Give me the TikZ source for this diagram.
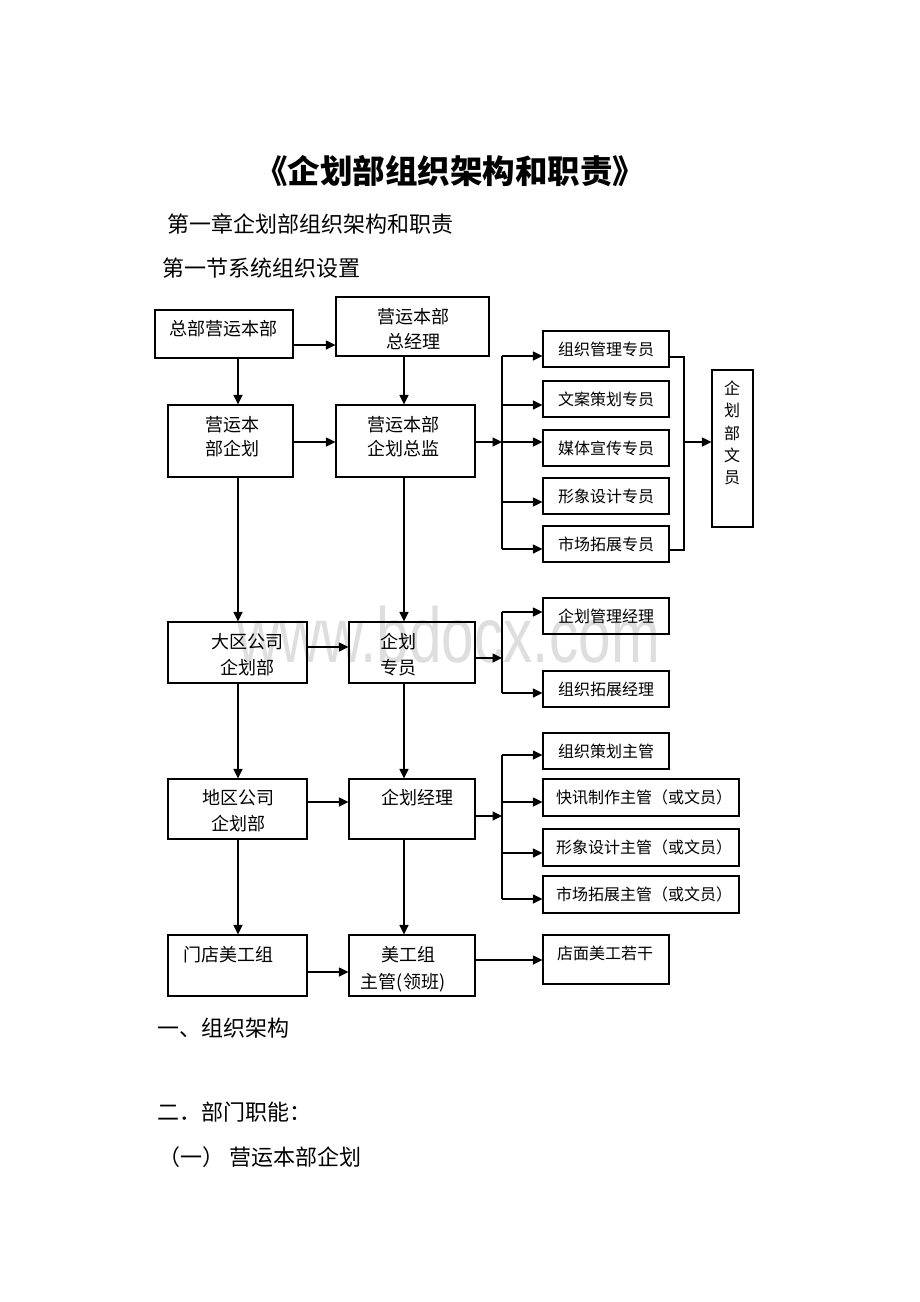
\documentclass[tikz,border=0pt]{standalone}
\usepackage{fontspec}
\setmainfont{Noto Sans CJK SC}
\newfontfamily\wmfont{Liberation Sans}
\usetikzlibrary{arrows.meta}
\definecolor{wmgray}{HTML}{DEDEDE}
\begin{document}
\begin{tikzpicture}[x=1pt,y=-1pt,
  box/.style={draw, line width=1.1pt, inner sep=0pt},
  arr/.style={-{Triangle[length=9.5pt,width=9pt]}, line width=1.1pt},
  ln/.style={line width=1.1pt},
  t/.style={inner sep=0pt, font=\fontsize{18}{18}\selectfont},
  ts/.style={inner sep=0pt, font=\fontsize{16}{16}\selectfont},
  hd/.style={inner sep=0pt, anchor=west, font=\fontsize{22}{22}\selectfont},
]
\useasboundingbox[fill=white] (0,0) rectangle (920,1302);

% watermark
\node[inner sep=0pt, anchor=base west, text=wmgray, xscale=0.75,
  font=\wmfont\fontsize{78}{78}\selectfont] (wm) at (237,662) {www.bdocx.com};

% headings
\node[inner sep=0pt, font=\bfseries\fontsize{32.5}{32.5}\selectfont] (title) at (450,171) {《企划部组织架构和职责》};
\node[hd] (h1) at (167,224) {第一章企划部组织架构和职责};
\node[hd] (h2) at (162,268) {第一节系统组织设置};
\node[hd] (h3) at (157,1028) {一、组织架构};
\node[hd] (h4) at (157,1112) {二．部门职能：};
\node[hd] (h5) at (158,1157) {（一） 营运本部企划};

% ---- boxes ----
\node[box, minimum width=138pt, minimum height=48pt] (hq) at (224,334) {};
\node[t] (hqt) at (223,329) {总部营运本部};
\node[box, minimum width=153pt, minimum height=59pt] (gm) at (412.5,326.5) {};
\node[t] (gmt1) at (413,317) {营运本部};
\node[t] (gmt2) at (413,342) {总经理};
\node[box, minimum width=125pt, minimum height=72pt] (qh) at (230.5,441) {};
\node[t] (qht1) at (232,425) {营运本};
\node[t] (qht2) at (232,449) {部企划};
\node[box, minimum width=139pt, minimum height=72pt] (zj) at (405.5,441) {};
\node[t] (zjt1) at (403,425) {营运本部};
\node[t] (zjt2) at (403,449) {企划总监};

\node[box, minimum width=126pt, minimum height=36pt] (r1) at (606,349) {};
\node[ts] at (r1) {组织管理专员};
\node[box, minimum width=126pt, minimum height=36pt] (r2) at (606,399) {};
\node[ts] at (r2) {文案策划专员};
\node[box, minimum width=126pt, minimum height=36pt] (r3) at (606,448) {};
\node[ts] at (r3) {媒体宣传专员};
\node[box, minimum width=126pt, minimum height=36pt] (r4) at (606,496) {};
\node[ts] at (r4) {形象设计专员};
\node[box, minimum width=126pt, minimum height=36pt] (r5) at (606,544) {};
\node[ts] at (r5) {市场拓展专员};

\node[box, minimum width=41pt, minimum height=157pt] (wy) at (732.5,448.5) {};
\node[ts] at (732,388) {企};
\node[ts] at (732,410.5) {划};
\node[ts] at (732,433) {部};
\node[ts] at (732,455.5) {文};
\node[ts] at (732,478) {员};

\node[box, minimum width=139pt, minimum height=61pt] (dq) at (237.5,652.5) {};
\node[t] at (247,642) {大区公司};
\node[t] at (247,668) {企划部};
\node[box, minimum width=126pt, minimum height=61pt] (zy) at (412,652.5) {};
\node[t] at (398,642) {企划};
\node[t] at (398,668) {专员};
\node[box, minimum width=126pt, minimum height=36pt] (glj) at (606,616) {};
\node[ts] at (glj) {企划管理经理};
\node[box, minimum width=126pt, minimum height=36pt] (tzj) at (606,689) {};
\node[ts] at (tzj) {组织拓展经理};

\node[box, minimum width=139pt, minimum height=60pt] (dqb) at (237.5,809) {};
\node[t] at (238,798) {地区公司};
\node[t] at (238,824) {企划部};
\node[box, minimum width=126pt, minimum height=60pt] (jl) at (412,809) {};
\node[t] at (417,798) {企划经理};
\node[box, minimum width=126pt, minimum height=36pt] (ch) at (606,751) {};
\node[ts] at (ch) {组织策划主管};
\node[box, minimum width=196pt, minimum height=37pt] (kx) at (641,797.5) {};
\node[ts, anchor=west] at (556,797.5) {快讯制作主管（或文员）};
\node[box, minimum width=196pt, minimum height=37pt] (xx) at (641,847.5) {};
\node[ts, anchor=west] at (556,847.5) {形象设计主管（或文员）};
\node[box, minimum width=196pt, minimum height=37pt] (sc) at (641,894.5) {};
\node[ts, anchor=west] at (556,894.5) {市场拓展主管（或文员）};

\node[box, minimum width=139pt, minimum height=61pt] (md) at (237.5,965.5) {};
\node[t] at (228,955) {门店美工组};
\node[box, minimum width=126pt, minimum height=61pt] (mg) at (412,965.5) {};
\node[t] at (408,955) {美工组};
\node[t] at (403,983) {主管(领班)};
\node[box, minimum width=126pt, minimum height=49pt] (dm) at (606,959.5) {};
\node[ts] at (605,953) {店面美工若干};

% ---- connectors ----
% top
\draw[arr] (hq.east |- 0,345) -- (gm.west |- 0,345);
\draw[arr] (hq.south -| 238,0) -- (qh.north -| 238,0);
\draw[arr] (gm.south -| 404,0) -- (zj.north -| 404,0);
\draw[arr] (qh.east |- 0,442) -- (zj.west |- 0,442);
\coordinate (b1) at (502,442);
\draw[arr] (zj.east |- b1) -- (b1);
\draw[ln] (502,356) -- (502,549);
\draw[arr] (502,356) -- (r1.west |- 0,356);
\draw[arr] (502,405) -- (r2.west |- 0,405);
\draw[arr] (502,442) -- (r3.west |- 0,442);
\draw[arr] (502,502) -- (r4.west |- 0,502);
\draw[arr] (502,549) -- (r5.west |- 0,549);
\draw[ln] (r1.east |- 0,357) -- (684,357) -- (684,550) -- (r5.east |- 0,550);
\draw[arr] (684,442) -- (wy.west |- 0,442);

% middle
\draw[arr] (qh.south -| 238,0) -- (dq.north -| 238,0);
\draw[arr] (zj.south -| 404,0) -- (zy.north -| 404,0);
\draw[arr] (dq.east |- 0,647) -- (zy.west |- 0,647);
\coordinate (b2) at (502,658);
\draw[arr] (zy.east |- b2) -- (b2);
\draw[ln] (502,612) -- (502,693);
\draw[arr] (502,612) -- (glj.west |- 0,612);
\draw[arr] (502,693) -- (tzj.west |- 0,693);

% lower
\draw[arr] (dq.south -| 238,0) -- (dqb.north -| 238,0);
\draw[arr] (zy.south -| 404,0) -- (jl.north -| 404,0);
\draw[arr] (dqb.east |- 0,802) -- (jl.west |- 0,802);
\coordinate (b3) at (502,816);
\draw[arr] (jl.east |- b3) -- (b3);
\draw[ln] (502,755) -- (502,899);
\draw[arr] (502,755) -- (ch.west |- 0,755);
\draw[arr] (502,802) -- (kx.west |- 0,802);
\draw[arr] (502,853) -- (xx.west |- 0,853);
\draw[arr] (502,899) -- (sc.west |- 0,899);

% bottom
\draw[arr] (dqb.south -| 238,0) -- (md.north -| 238,0);
\draw[arr] (jl.south -| 404,0) -- (mg.north -| 404,0);
\draw[arr] (md.east |- 0,972) -- (mg.west |- 0,972);
\draw[arr] (mg.east |- 0,960) -- (dm.west |- 0,960);
\end{tikzpicture}
\end{document}
